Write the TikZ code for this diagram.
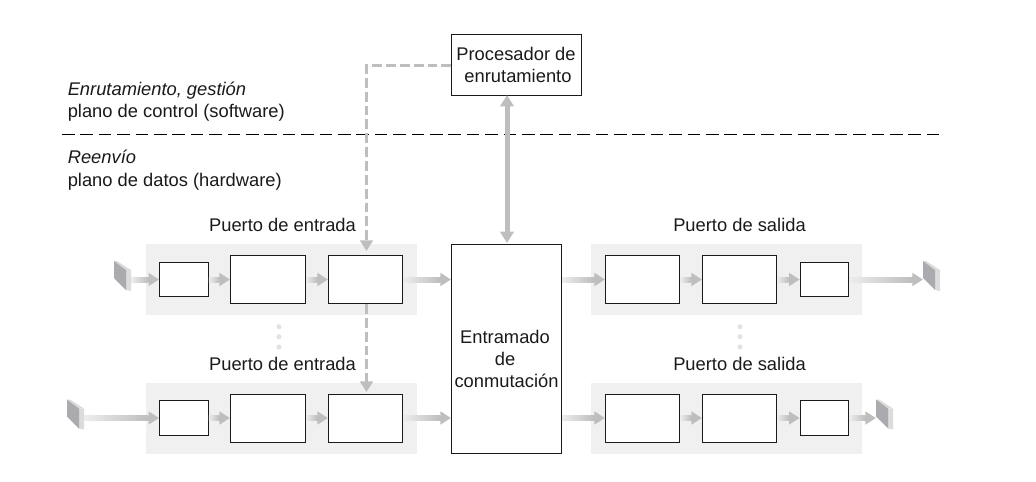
\documentclass[tikz,border=0pt]{standalone}
\usepackage{fontspec}
\setmainfont{Liberation Sans}
\usetikzlibrary{arrows.meta,calc}
\definecolor{arrowgray}{HTML}{BEBEBE}
\definecolor{fadegray}{HTML}{EDEDED}
\definecolor{panelgray}{HTML}{F0F0F0}
\definecolor{dotgray}{HTML}{E2E2E2}
\definecolor{linedark}{HTML}{1A1A1A}
\definecolor{facegray}{HTML}{ABABAF}
\definecolor{sidegray}{HTML}{DCDCDC}
\tikzset{
  x=0.75pt,y=-0.75pt,
  panel/.style={fill=panelgray,draw=none,anchor=north west,inner sep=0pt,minimum width=203.25pt,minimum height=53.25pt},
  box/.style={draw=linedark,fill=white,line width=0.75pt,inner sep=0pt,align=center},
  bigbox/.style={box,minimum width=55.5pt,minimum height=36pt},
  lab/.style={font=\fontsize{13.75}{16}\selectfont,inner sep=0pt,text=linedark},
  leftlab/.style={lab,anchor=base west},
  flow/.style={draw=arrowgray,line width=3.75pt,-{Triangle[length=8pt,width=9.5pt,fill=arrowgray]},shorten >=0pt},
  ctrl/.style={draw=arrowgray,line width=2.25pt,dash pattern=on 7.4pt off 3pt,-{Triangle[length=8pt,width=9.5pt,fill=arrowgray]}},
  both/.style={draw=arrowgray,line width=3.75pt,{Triangle[length=8.5pt,width=10pt,fill=arrowgray]}-{Triangle[length=8.5pt,width=10pt,fill=arrowgray]}},
}
\newcommand{\gradflow}[2]{%
  \draw[flow] (#1) -- (#2);
  \shade[left color=fadegray,right color=arrowgray] ($(#1)+(0,-2.5)$) rectangle ($(#2)+(-11,2.5)$);
}
\newcommand{\emitter}[2]{%
  \fill[sidegray] (#1+12,#2+9) -- (#1+17,#2+9) -- (#1+17,#2+30) -- (#1+12,#2+29) -- cycle;
  \fill[sidegray] (#1,#2) -- (#1+3,#2) -- (#1+17,#2+9) -- (#1+12,#2+9) -- cycle;
  \fill[facegray] (#1,#2) -- (#1+12,#2+9) -- (#1+12,#2+29) -- (#1,#2+17) -- cycle;
}
\begin{document}
\begin{tikzpicture}
\useasboundingbox (0,0) rectangle (1036,482);
\fill[white] (0,0) rectangle (1036,482);
\node[panel] (p1) at (146,244) {};
\node[panel] (p2) at (146,383) {};
\node[panel] (p3) at (591,244) {};
\node[panel] (p4) at (591,383) {};
\coordinate (divL) at (62,134.5);
\coordinate (divR) at (940,134.5);
\draw[black,line width=0.75pt,dash pattern=on 9.4pt off 4.4pt] (divL) -- (divR);
\node[box,minimum width=97.5pt,minimum height=45.5pt] (proc) at (516.75,64.75) {};
\node[box,minimum width=82.5pt,minimum height=156.75pt] (fabric) at (506.5,349) {};
\foreach \n/\y/\hs in {a/279.5/34,b/418/35}{
  \node[box,minimum width=36.5pt,minimum height=\hs*0.75pt] (\n1) at (184,\y) {};
  \node[box,minimum width=56.25pt,minimum height=36pt] (\n2) at (268,\y) {};
  \node[bigbox] (\n3) at (365.5,\y) {};
  \node[bigbox] (\n4) at (642.5,\y) {};
  \node[bigbox] (\n5) at (739.5,\y) {};
  \node[box,minimum width=36.5pt,minimum height=\hs*0.75pt] (\n6) at (824.5,\y) {};
}
\emitter{114}{261}
\emitter{67}{399.5}
\emitter{923}{261}
\emitter{876}{399.5}
\coordinate (ea) at (131,279.5);
\coordinate (eb) at (84,418);
\coordinate (ec) at (923,279.5);
\coordinate (ed) at (876,418);
\gradflow{ea}{a1.west}
\gradflow{eb}{b1.west}
\foreach \n in {a,b}{
  \gradflow{\n1.east}{\n2.west}
  \gradflow{\n2.east}{\n3.west}
  \gradflow{\n4.east}{\n5.west}
  \gradflow{\n5.east}{\n6.west}
}
\gradflow{a3.east}{fabric.west |- a3.east}
\gradflow{b3.east}{fabric.west |- b3.east}
\gradflow{fabric.east |- a4.west}{a4.west}
\gradflow{fabric.east |- b4.west}{b4.west}
\gradflow{a6.east}{ec}
\gradflow{b6.east}{ed}
\coordinate (bend) at (366.5,65.5);
\coordinate (ctrlend) at (366.5,251);
\coordinate (ctrlend2) at (366.5,392);
\draw[ctrl] (proc.west |- bend) -- (bend) -- (ctrlend);
\draw[ctrl] (a3.south -| bend) -- (ctrlend2);
\draw[both] (fabric.north -| proc.south) ++(-9.75,-1) -- ($(proc.south)+(-9.75,-0.5)$);
\foreach \x in {279,740}\foreach \y in {326.7,336.7,347}
  \fill[dotgray] (\x,\y) circle[radius=1.9pt];
\node[leftlab] (t1) at (67.5,95) {\itshape Enrutamiento, gestión};
\node[leftlab] (t2) at (67.5,117) {plano de control (software)};
\node[leftlab] (t3) at (67.5,163.5) {\itshape Reenvío};
\node[leftlab] (t4) at (67.5,186) {plano de datos (hardware)};
\node[lab,anchor=base] (t5) at (282.5,231.5) {Puerto de entrada};
\node[lab,anchor=base] (t6) at (282.5,370.5) {Puerto de entrada};
\node[lab,anchor=base] (t7) at (739.5,231.5) {Puerto de salida};
\node[lab,anchor=base] (t8) at (739.5,370.5) {Puerto de salida};
\node[lab,anchor=base] (t9) at (516,60) {Procesador de};
\node[lab,anchor=base] (t10) at (518,82) {enrutamiento};
\node[lab,anchor=base] (t11) at (505,343) {Entramado};
\node[lab,anchor=base] (t12) at (505,365.5) {de};
\node[lab,anchor=base] (t13) at (506.5,387.5) {conmutación};
\end{tikzpicture}
\end{document}
